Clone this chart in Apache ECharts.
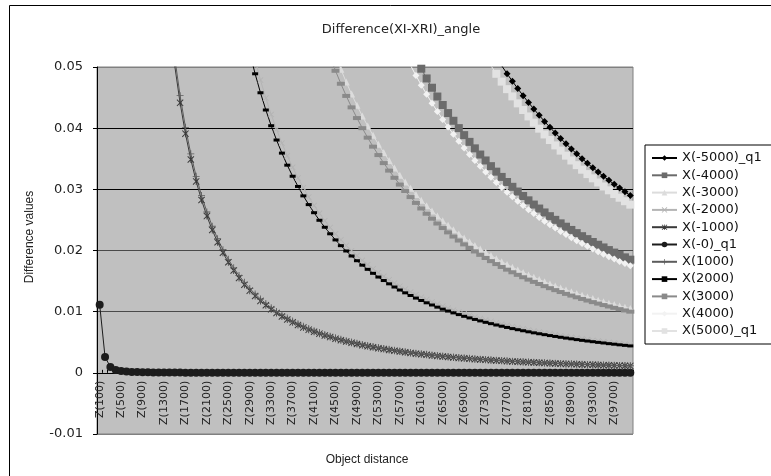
<!DOCTYPE html>
<html>
<head>
<meta charset="utf-8">
<script src="https://cdn.jsdelivr.net/npm/echarts@6/dist/echarts.min.js"></script>
<style>
html, body { margin: 0; padding: 0; background: #fff; }
#chart { width: 771px; height: 476px; }
</style>
</head>
<body>
<div id="chart"></div>
<script>
// Object distance categories
const zCategories = [
  'Z(100)','Z(200)','Z(300)','Z(400)','Z(500)','Z(600)','Z(700)','Z(800)','Z(900)','Z(1000)',
  'Z(1100)','Z(1200)','Z(1300)','Z(1400)','Z(1500)','Z(1600)','Z(1700)','Z(1800)','Z(1900)','Z(2000)',
  'Z(2100)','Z(2200)','Z(2300)','Z(2400)','Z(2500)','Z(2600)','Z(2700)','Z(2800)','Z(2900)','Z(3000)',
  'Z(3100)','Z(3200)','Z(3300)','Z(3400)','Z(3500)','Z(3600)','Z(3700)','Z(3800)','Z(3900)','Z(4000)',
  'Z(4100)','Z(4200)','Z(4300)','Z(4400)','Z(4500)','Z(4600)','Z(4700)','Z(4800)','Z(4900)','Z(5000)',
  'Z(5100)','Z(5200)','Z(5300)','Z(5400)','Z(5500)','Z(5600)','Z(5700)','Z(5800)','Z(5900)','Z(6000)',
  'Z(6100)','Z(6200)','Z(6300)','Z(6400)','Z(6500)','Z(6600)','Z(6700)','Z(6800)','Z(6900)','Z(7000)',
  'Z(7100)','Z(7200)','Z(7300)','Z(7400)','Z(7500)','Z(7600)','Z(7700)','Z(7800)','Z(7900)','Z(8000)',
  'Z(8100)','Z(8200)','Z(8300)','Z(8400)','Z(8500)','Z(8600)','Z(8700)','Z(8800)','Z(8900)','Z(9000)',
  'Z(9100)','Z(9200)','Z(9300)','Z(9400)','Z(9500)','Z(9600)','Z(9700)','Z(9800)','Z(9900)','Z(10000)'
];

// Series values; each list ends at Z(10000) and starts where the curve enters the plotted range
const xNeg5000 = [ // from Z(7500)
  0.05156, 0.05021, 0.04891, 0.04767, 0.04647, 0.04531, 0.04420, 0.04313, 0.04210, 0.04110,
  0.04014, 0.03921, 0.03832, 0.03745, 0.03661, 0.03580, 0.03502, 0.03426, 0.03353, 0.03282,
  0.03213, 0.03147, 0.03082, 0.03020, 0.02959, 0.02900
];
const xNeg4000 = [ // from Z(6000)
  0.05139, 0.04972, 0.04813, 0.04661, 0.04517, 0.04379, 0.04247, 0.04121, 0.04001, 0.03886,
  0.03776, 0.03670, 0.03569, 0.03472, 0.03379, 0.03289, 0.03203, 0.03120, 0.03041, 0.02964,
  0.02891, 0.02820, 0.02751, 0.02686, 0.02622, 0.02561, 0.02501, 0.02444, 0.02389, 0.02336,
  0.02284, 0.02234, 0.02186, 0.02139, 0.02094, 0.02050, 0.02007, 0.01966, 0.01926, 0.01888,
  0.01850
];
const xNeg3000 = [ // from Z(4500)
  0.05185, 0.04962, 0.04753, 0.04557, 0.04373,
  0.04200, 0.04037, 0.03883, 0.03738, 0.03601, 0.03471, 0.03348, 0.03232, 0.03121, 0.03016,
  0.02917, 0.02822, 0.02732, 0.02646, 0.02564, 0.02485, 0.02411, 0.02339, 0.02271, 0.02205,
  0.02143, 0.02083, 0.02026, 0.01970, 0.01918, 0.01867, 0.01818, 0.01771, 0.01726, 0.01682,
  0.01641, 0.01600, 0.01562, 0.01524, 0.01488, 0.01453, 0.01420, 0.01387, 0.01356, 0.01326,
  0.01296, 0.01268, 0.01241, 0.01214, 0.01188, 0.01163, 0.01139, 0.01116, 0.01093, 0.01071,
  0.01050
];
const xNeg2000 = [ // from Z(3000)
  0.05111, 0.04787, 0.04492, 0.04224, 0.03979, 0.03755, 0.03549, 0.03360, 0.03186, 0.03024,
  0.02875, 0.02736, 0.02608, 0.02488, 0.02376, 0.02272, 0.02174, 0.02082, 0.01997, 0.01916,
  0.01840, 0.01769, 0.01701, 0.01638, 0.01578, 0.01521, 0.01467, 0.01416, 0.01367, 0.01321,
  0.01278, 0.01236, 0.01197, 0.01159, 0.01123, 0.01089, 0.01056, 0.01025, 0.00995, 0.00966,
  0.00939, 0.00913, 0.00887, 0.00863, 0.00840, 0.00818, 0.00796, 0.00776, 0.00756, 0.00737,
  0.00719, 0.00701, 0.00684, 0.00668, 0.00652, 0.00637, 0.00622, 0.00608, 0.00594, 0.00581,
  0.00568, 0.00556, 0.00544, 0.00532, 0.00521, 0.00510, 0.00499, 0.00489, 0.00479, 0.00469,
  0.00460
];
const xNeg1000 = [ // from Z(1400)
  0.05765, 0.05022, 0.04414, 0.03910, 0.03488, 0.03130,
  0.02825, 0.02562, 0.02335, 0.02136, 0.01962, 0.01808, 0.01672, 0.01550, 0.01441, 0.01344,
  0.01256, 0.01176, 0.01104, 0.01038, 0.00978, 0.00922, 0.00872, 0.00825, 0.00783, 0.00743,
  0.00706, 0.00672, 0.00641, 0.00611, 0.00584, 0.00558, 0.00534, 0.00512, 0.00491, 0.00471,
  0.00452, 0.00434, 0.00418, 0.00402, 0.00388, 0.00374, 0.00360, 0.00348, 0.00336, 0.00325,
  0.00314, 0.00304, 0.00294, 0.00285, 0.00276, 0.00268, 0.00259, 0.00252, 0.00244, 0.00237,
  0.00231, 0.00224, 0.00218, 0.00212, 0.00206, 0.00201, 0.00196, 0.00191, 0.00186, 0.00181,
  0.00177, 0.00172, 0.00168, 0.00164, 0.00160, 0.00156, 0.00153, 0.00149, 0.00146, 0.00143,
  0.00140, 0.00137, 0.00134, 0.00131, 0.00128, 0.00125, 0.00123, 0.00120, 0.00118, 0.00115,
  0.00113
];
const xZero = [ // from Z(100)
  0.01115, 0.00260, 0.00095, 0.00045, 0.00028, 0.00020, 0.00015, 0.00012, 0.00010, 0.00008,
  0.00007, 0.00006, 0.00005, 0.00005, 0.00004, 0.00004, 0.00003, 0.00003, 0.00003, 0.00003,
  0.00002, 0.00002, 0.00002, 0.00002, 0.00002, 0.00002, 0.00002, 0.00002, 0.00002, 0.00002,
  0.00001, 0.00001, 0.00001, 0.00001, 0.00001, 0.00001, 0.00001, 0.00001, 0.00001, 0.00001,
  0.00001, 0.00001, 0.00001, 0.00001, 0.00001, 0.00001, 0.00001, 0.00001, 0.00001, 0.00001,
  0.000005, 0.000005, 0.000005, 0.000005, 0.000005, 0.000005, 0.000005, 0.000005, 0.000005, 0.000005,
  0.000005, 0.000005, 0.000005, 0.000005, 0.000005, 0.000005, 0.000005, 0.000005, 0.000005, 0.000005,
  0.000005, 0.000005, 0.000005, 0.000005, 0.000005, 0.000005, 0.000005, 0.000005, 0.000005, 0.000005,
  0.000005, 0.000005, 0.000005, 0.000005, 0.000005, 0.000005, 0.000005, 0.000005, 0.000005, 0.000005,
  0.000005, 0.000005, 0.000005, 0.000005, 0.000005, 0.000005, 0.000005, 0.000005, 0.000005, 0.000005
];
const xPos1000 = [ // from Z(1400)
  0.05918, 0.05156, 0.04531, 0.04014, 0.03580, 0.03213,
  0.02900, 0.02630, 0.02397, 0.02193, 0.02014, 0.01856, 0.01716, 0.01591, 0.01480, 0.01379,
  0.01289, 0.01207, 0.01133, 0.01065, 0.01004, 0.00947, 0.00895, 0.00847, 0.00803, 0.00763,
  0.00725, 0.00690, 0.00658, 0.00627, 0.00599, 0.00573, 0.00548, 0.00525, 0.00504, 0.00483,
  0.00464, 0.00446, 0.00429, 0.00413, 0.00398, 0.00384, 0.00370, 0.00357, 0.00345, 0.00333,
  0.00322, 0.00312, 0.00302, 0.00292, 0.00283, 0.00275, 0.00266, 0.00258, 0.00251, 0.00244,
  0.00237, 0.00230, 0.00224, 0.00218, 0.00212, 0.00206, 0.00201, 0.00196, 0.00191, 0.00186,
  0.00181, 0.00177, 0.00173, 0.00168, 0.00164, 0.00161, 0.00157, 0.00153, 0.00150, 0.00147,
  0.00143, 0.00140, 0.00137, 0.00134, 0.00131, 0.00129, 0.00126, 0.00123, 0.00121, 0.00118,
  0.00116
];
const xPos2000 = [ // from Z(2900)
  0.05232,
  0.04889, 0.04579, 0.04297, 0.04040, 0.03806, 0.03592, 0.03395, 0.03214, 0.03047, 0.02893,
  0.02750, 0.02618, 0.02494, 0.02380, 0.02273, 0.02173, 0.02079, 0.01992, 0.01910, 0.01833,
  0.01760, 0.01692, 0.01627, 0.01566, 0.01509, 0.01455, 0.01403, 0.01354, 0.01308, 0.01264,
  0.01222, 0.01183, 0.01145, 0.01109, 0.01074, 0.01041, 0.01010, 0.00980, 0.00952, 0.00924,
  0.00898, 0.00873, 0.00849, 0.00826, 0.00804, 0.00782, 0.00762, 0.00742, 0.00723, 0.00705,
  0.00688, 0.00671, 0.00654, 0.00639, 0.00624, 0.00609, 0.00595, 0.00581, 0.00568, 0.00556,
  0.00543, 0.00531, 0.00520, 0.00509, 0.00498, 0.00488, 0.00477, 0.00468, 0.00458, 0.00449,
  0.00440
];
const xPos3000 = [ // from Z(4400)
  0.05165, 0.04938, 0.04726, 0.04527, 0.04340, 0.04165,
  0.04000, 0.03845, 0.03698, 0.03560, 0.03429, 0.03306, 0.03189, 0.03078, 0.02973, 0.02873,
  0.02778, 0.02687, 0.02601, 0.02520, 0.02441, 0.02367, 0.02296, 0.02228, 0.02163, 0.02100,
  0.02041, 0.01984, 0.01929, 0.01877, 0.01826, 0.01778, 0.01731, 0.01687, 0.01644, 0.01602,
  0.01563, 0.01524, 0.01487, 0.01452, 0.01417, 0.01384, 0.01352, 0.01321, 0.01291, 0.01263,
  0.01235, 0.01208, 0.01182, 0.01156, 0.01132, 0.01108, 0.01085, 0.01063, 0.01041, 0.01020,
  0.01000
];
const xPos4000 = [ // from Z(5800)
  0.05202, 0.05027,
  0.04861, 0.04703, 0.04553, 0.04409, 0.04273, 0.04142, 0.04018, 0.03899, 0.03785, 0.03676,
  0.03571, 0.03472, 0.03376, 0.03284, 0.03196, 0.03111, 0.03030, 0.02952, 0.02877, 0.02804,
  0.02734, 0.02667, 0.02603, 0.02540, 0.02480, 0.02422, 0.02366, 0.02312, 0.02260, 0.02209,
  0.02161, 0.02113, 0.02068, 0.02023, 0.01981, 0.01939, 0.01899, 0.01860, 0.01822, 0.01786,
  0.01750
];
const xPos5000 = [ // from Z(7300)
  0.05160, 0.05022, 0.04889, 0.04761, 0.04638, 0.04520, 0.04406,
  0.04297, 0.04192, 0.04090, 0.03992, 0.03897, 0.03806, 0.03718, 0.03633, 0.03551, 0.03472,
  0.03395, 0.03321, 0.03249, 0.03180, 0.03112, 0.03047, 0.02984, 0.02923, 0.02863, 0.02806,
  0.02750
];

const FONT = 'DejaVu Sans';
const TITLE_FONT = 'Liberation Sans';
const X_PATH = 'path://M0,1L1,0L5,4L9,0L10,1L6,5L10,9L9,10L5,6L1,10L0,9L4,5Z';
const STAR_PATH = 'path://M0,1L1,0L5,4L9,0L10,1L6,5L10,9L9,10L5,6L1,10L0,9L4,5ZM4.4,0L5.6,0L5.6,10L4.4,10Z';
const PLUS_PATH = 'path://M4.4,0L5.6,0L5.6,4.4L10,4.4L10,5.6L5.6,5.6L5.6,10L4.4,10L4.4,5.6L0,5.6L0,4.4L4.4,4.4Z';

// Marker look of every series, in legend order
const seriesLook = [
  { name: 'X(-5000)_q1', values: xNeg5000, symbol: 'diamond', size: 7, color: '#000000' },
  { name: 'X(-4000)',    values: xNeg4000, symbol: 'rect', size: 8, color: '#6b6b6b' },
  { name: 'X(-3000)',    values: xNeg3000, symbol: 'triangle', size: 7, color: '#dcdcdc' },
  { name: 'X(-2000)',    values: xNeg2000, symbol: X_PATH, size: 6, color: '#b4b4b4' },
  { name: 'X(-1000)',    values: xNeg1000, symbol: STAR_PATH, size: 7, color: '#3a3a3a' },
  { name: 'X(-0)_q1',    values: xZero,    symbol: 'circle', size: 8, color: '#1c1c1c' },
  { name: 'X(1000)',     values: xPos1000, symbol: PLUS_PATH, size: 7, color: '#5c5c5c' },
  { name: 'X(2000)',     values: xPos2000, symbol: 'rect', size: [6, 3], color: '#000000' },
  { name: 'X(3000)',     values: xPos3000, symbol: 'rect', size: [8, 4], color: '#8a8a8a' },
  { name: 'X(4000)',     values: xPos4000, symbol: 'diamond', size: 7, color: '#f2f2f2' },
  { name: 'X(5000)_q1',  values: xPos5000, symbol: 'rect', size: 8, color: '#e2e2e2' }
];

// Pad a list so its last value sits on the last category
function alignToEnd(values) {
  return new Array(zCategories.length - values.length).fill(null).concat(values);
}

const GRID = { left: 97, top: 67, right: 138, bottom: 42 };
const Y_MIN = -0.01, Y_MAX = 0.05;
// the category axis crosses the value axis at 0: lift it from the grid bottom by that share of the height
const plotHeight = 476 - GRID.top - GRID.bottom;
const zeroLift = plotHeight * (0 - Y_MIN) / (Y_MAX - Y_MIN);

const chart = echarts.init(document.getElementById('chart'), null, { renderer: 'canvas' });

chart.setOption({
  animation: false,
  backgroundColor: '#ffffff',
  title: {
    text: 'Difference(XI-XRI)_angle',
    left: 396,
    top: 18,
    textAlign: 'center',
    textStyle: { fontFamily: FONT, fontSize: 13, fontWeight: 'normal', color: '#222' }
  },
  grid: Object.assign({
    show: true, backgroundColor: '#c0c0c0', borderColor: '#808080', borderWidth: 1
  }, GRID),
  legend: {
    orient: 'vertical',
    left: 645,
    top: 145,
    padding: [6, 30, 6, 6],
    itemWidth: 25,
    itemHeight: 7,
    itemGap: 3.3,
    borderColor: '#000',
    borderWidth: 1,
    backgroundColor: '#fff',
    textStyle: { fontFamily: FONT, fontSize: 13, color: '#111', lineHeight: 14 },
    data: seriesLook.map(s => s.name)
  },
  xAxis: {
    type: 'category',
    data: zCategories,
    boundaryGap: true,
    offset: -zeroLift,
    axisLine: { onZero: false, lineStyle: { color: '#000', width: 1 } },
    axisTick: { show: true, interval: 0, inside: true, length: 3, lineStyle: { color: '#000' } },
    axisLabel: { interval: 3, rotate: 90, margin: 8, fontFamily: FONT, fontSize: 11, color: '#222' },
    splitLine: { show: false }
  },
  yAxis: {
    type: 'value',
    min: Y_MIN,
    max: Y_MAX,
    interval: 0.01,
    axisLine: { show: true, lineStyle: { color: '#000' } },
    axisTick: { show: true, length: 4, lineStyle: { color: '#000' } },
    axisLabel: {
      margin: 14, fontFamily: FONT, fontSize: 13, color: '#222',
      formatter: v => (Math.abs(v) < 1e-9 ? '0' : v.toFixed(2))
    },
    splitLine: {
      show: true,
      lineStyle: { width: 1, color: ['#808080', '#000', '#4a4a4a', '#4a4a4a', '#000', '#000', '#808080'] }
    }
  },
  graphic: [
    {
      type: 'rect', silent: true, z: 100,
      shape: { x: 9.5, y: 5.5, width: 800, height: 500 },
      style: { fill: 'none', stroke: '#000', lineWidth: 1 }
    },
    {
      type: 'text', silent: true, x: 30, y: 237, rotation: Math.PI / 2,
      style: { text: 'Difference values', fontFamily: TITLE_FONT, fontSize: 12, fill: '#222', align: 'center', verticalAlign: 'middle' }
    },
    {
      type: 'text', silent: true, x: 367, y: 460,
      style: { text: 'Object distance', fontFamily: TITLE_FONT, fontSize: 12, fill: '#222', align: 'center', verticalAlign: 'middle' }
    }
  ],
  series: seriesLook.map(s => ({
    name: s.name,
    type: 'line',
    data: alignToEnd(s.values),
    symbol: s.symbol,
    symbolSize: s.size,
    showAllSymbol: true,
    clip: true,
    connectNulls: false,
    lineStyle: { color: s.color, width: 1 },
    itemStyle: { color: s.color, borderWidth: 0 },
    emphasis: { disabled: true }
  }))
});
</script>
</body>
</html>
